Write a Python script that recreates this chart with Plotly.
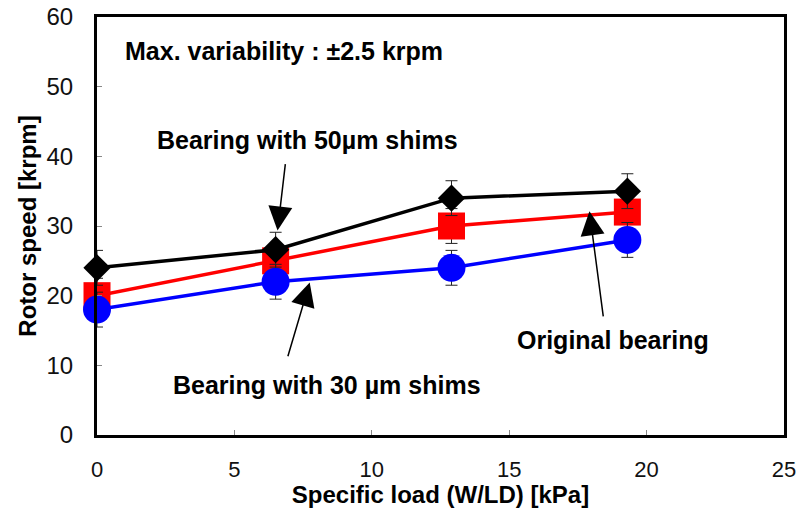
import plotly.graph_objects as go

# Specific load (W/LD) in kPa
load_kpa = [0.0, 6.5, 12.9, 19.3]

# Rotor speed in krpm for each bearing configuration
speed_original = [20.0, 25.0, 30.0, 32.0]
speed_30um = [18.0, 22.0, 24.0, 28.0]
speed_50um = [24.0, 26.6, 34.0, 35.0]

# Maximum variability (krpm)
variability = [2.5, 2.5, 2.5, 2.5]

FONT = "Liberation Sans, Arial, sans-serif"

fig = go.Figure()


def add_series(y, color, symbol, size):
    fig.add_trace(go.Scatter(
        x=load_kpa, y=y, mode="lines+markers", cliponaxis=False,
        line=dict(color=color, width=3.5),
        marker=dict(color=color, symbol=symbol, size=size, line=dict(width=0)),
        error_y=dict(type="data", array=variability, visible=True,
                     color="#222222", thickness=1, width=6),
        showlegend=False,
    ))


add_series(speed_original, "#ff0000", "square", 27)
add_series(speed_30um, "#0000ff", "circle", 28)
add_series(speed_50um, "#000000", "diamond", 21)

bold = dict(family=FONT, size=25, color="black")

# Text labels
fig.add_annotation(x=0.95, y=55.1, text="<b>Max. variability : ±2.5 krpm</b>",
                   showarrow=False, xanchor="left", yanchor="middle", font=bold)
fig.add_annotation(x=7.66, y=42.3, text="<b>Bearing with 50µm shims</b>",
                   showarrow=False, font=bold)
fig.add_annotation(x=8.36, y=7.2, text="<b>Bearing with 30 µm shims</b>",
                   showarrow=False, font=bold)
fig.add_annotation(x=18.76, y=13.7, text="<b>Original bearing</b>",
                   showarrow=False, font=bold)

# Pointer arrows (tail -> tip)
arrows = [
    ((6.86, 39.1), (6.57, 29.35)),
    ((6.93, 11.1), (7.74, 21.9)),
    ((18.43, 16.8), (17.92, 32.1)),
]
for (tx, ty), (hx, hy) in arrows:
    fig.add_annotation(x=hx, y=hy, ax=tx, ay=ty, xref="x", yref="y",
                       axref="x", ayref="y", text="", showarrow=True,
                       arrowhead=2, arrowsize=3.2, arrowwidth=1.5,
                       arrowcolor="black")

axis_common = dict(
    showline=True, linecolor="black", linewidth=3, mirror=True,
    ticks="inside", ticklen=5, tickcolor="#888888", tickwidth=1,
    showgrid=False, zeroline=False, automargin=False,
)

fig.update_xaxes(range=[0, 25], dtick=5, ticklabelstandoff=13,
                 tickfont=dict(family=FONT, size=22, color="#111111"),
                 title=dict(text="<b>Specific load (W/LD) [kPa]</b>",
                            font=dict(family=FONT, size=24, color="black"),
                            standoff=6),
                 **axis_common)
fig.update_yaxes(range=[0, 60], dtick=10, ticklabelstandoff=16,
                 tickfont=dict(family=FONT, size=24, color="#111111"),
                 title=dict(text="<b>Rotor speed [krpm]</b>",
                            font=dict(family=FONT, size=24, color="black"),
                            standoff=4),
                 **axis_common)

fig.update_layout(
    width=801, height=508,
    margin=dict(l=97, r=17, t=17, b=73),
    plot_bgcolor="white", paper_bgcolor="white",
)

fig.write_html("out.html")
